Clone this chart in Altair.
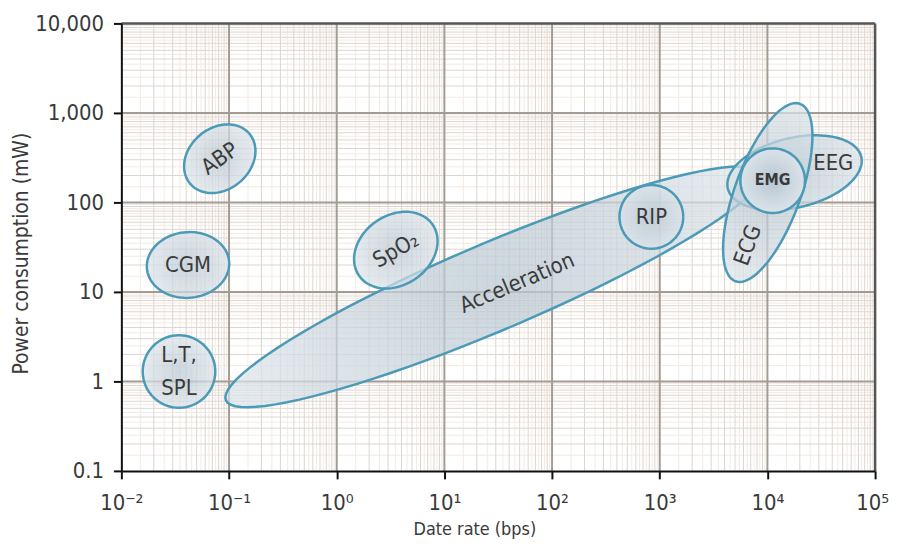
import math
import altair as alt
import pandas as pd

# ---------------- data ----------------
ellipse_names = ["Acceleration", "SpO2", "RIP", "ABP", "CGM", "LTSPL", "EEG", "ECG", "EMG"]
center_rate = [28.4, 3.54, 836, 0.082, 0.0416, 0.0343, 17860, 10070, 11190]      # bps
center_power = [11.4, 29.3, 69, 308, 20.0, 1.29, 215, 129, 175]                  # mW
major_decades = [2.697, 0.416, 0.296, 0.36, 0.383, 0.337, 0.637, 0.877, 0.30]  # half-extent, decades
minor_decades = [0.406, 0.323, 0.296, 0.286, 0.305, 0.337, 0.323, 0.305, 0.30]
tilt_deg = [23, 35, 0, 40, 5, 0, 13.4, 70, 0]

label_text = ["Acceleration", "SpO₂", "RIP", "ABP", "CGM", "L,T,\nSPL", "EEG", "ECG"]
label_rate = [47.3, 3.54, 836, 0.082, 0.0416, 0.0343, 40900, 6577]
label_power = [12.6, 29.3, 69, 308, 20.0, 1.95, 278, 33.3]
label_angle = [337, 330, 0, 325, 0, 0, 0, 290]

emg_text = ["EMG"]
emg_rate = [11190]
emg_power = [178]

x_ticks = [0.01, 0.1, 1, 10, 100, 1000, 10000, 100000]
x_tick_labels = ["10⁻²", "10⁻¹", "10⁰", "10¹", "10²", "10³", "10⁴", "10⁵"]
y_ticks = [0.1, 1, 10, 100, 1000, 10000]
y_tick_labels = ["0.1", "1", "10", "100", "1,000", "10,000"]

# ---------------- layout / style ----------------
W, H = 758, 450
ASPECT = (W / 7) / (H / 5)      # px per x-decade / px per y-decade
FONT = "Liberation Sans Narrow, DejaVu Sans Condensed, sans-serif"
TXT = "#3a3a3a"
STROKE = "#4b9ab8"

xscale = alt.Scale(type="log", domain=[0.01, 100000], nice=False)
yscale = alt.Scale(type="log", domain=[0.1, 10000], nice=False)

# ellipse outlines, computed in log space from centre / extents / tilt
N = 90
rows = []
for i, name in enumerate(ellipse_names):
    lx, ly = math.log10(center_rate[i]), math.log10(center_power[i])
    a, b = major_decades[i], minor_decades[i]
    th = math.radians(tilt_deg[i])
    for k in range(N + 1):
        t = 2 * math.pi * k / N
        u, v = a * math.cos(t), b * math.sin(t)
        dx = u * math.cos(th) - v * math.sin(th)
        dy = (u * math.sin(th) + v * math.cos(th)) * ASPECT
        rows.append({"name": name, "ord": i * 1000 + k,
                     "rate": 10 ** (lx + dx), "power": 10 ** (ly + dy)})
shapes = pd.DataFrame(rows)

# grid lines
x_minor = [m * 10 ** d for d in range(-2, 5) for m in range(2, 10)]
y_minor = [m * 10 ** d for d in range(-1, 4) for m in range(2, 10)]
x_fine = [(m + 0.5) * 10 ** d for d in range(-2, 5) for m in range(1, 10)]
y_fine = [(m + 0.5) * 10 ** d for d in range(-1, 4) for m in range(1, 10)]

xlabel_expr = "[" + ",".join("'%s'" % s for s in x_tick_labels) + "][round(log(datum.value)/LN10)+2]"
ylabel_expr = "[" + ",".join("'%s'" % s for s in y_tick_labels) + "][round(log(datum.value)/LN10)+1]"

xaxis = alt.Axis(values=x_ticks, title="Date rate (bps)", labelExpr=xlabel_expr,
                 grid=False, tickSize=8, tickWidth=2, tickColor="#111", domainColor="#111", domainWidth=2,
                 labelFont=FONT, labelFontSize=22, labelColor=TXT, labelPadding=14, labelFlush=False,
                 labelOffset={"condition": {"test": "datum.value > 50000", "value": -3}, "value": 0},
                 titleFont=FONT, titleFontSize=18, titleFontWeight="normal", titleColor=TXT,
                 titleX=355, titleY=50, titleBaseline="top", titleAnchor=None,
                 zindex=2)
yaxis = alt.Axis(values=y_ticks, title="Power consumption (mW)", labelExpr=ylabel_expr,
                 grid=False, tickSize=8, tickWidth=2, tickColor="#111", domainColor="#111", domainWidth=2,
                 labelFont=FONT, labelFontSize=22, labelColor=TXT, labelPadding=10, labelFlush=False,
                 titleFont=FONT, titleFontSize=21, titleFontWeight="normal", titleColor=TXT,
                 titleX=-100, titleY=231, titleBaseline="middle", titleAngle=270,
                 zindex=2)


def X(field):
    return alt.X(field, scale=xscale, axis=xaxis)


def Y(field):
    return alt.Y(field, scale=yscale, axis=yaxis)


def vrules(vals, color, width):
    return alt.Chart(pd.DataFrame({"v": vals})).mark_rule(color=color, strokeWidth=width).encode(x=X("v:Q"))


def hrules(vals, color, width):
    return alt.Chart(pd.DataFrame({"v": vals})).mark_rule(color=color, strokeWidth=width).encode(y=Y("v:Q"))


grid = alt.layer(
    vrules(x_fine, "#f5e9e2", 1), hrules(y_fine, "#f5e9e2", 1),
    vrules(x_minor, "#dcd6d1", 1), hrules(y_minor, "#dcd6d1", 1),
    vrules(x_ticks[1:-1], "#a39c95", 2), hrules(y_ticks[1:-1], "#a39c95", 2),
    vrules(x_ticks[-1:], "#555555", 2.5), hrules(y_ticks[-1:], "#555555", 2.5),
)

fill_grad = alt.RadialGradient(
    gradient="radial",
    stops=[alt.GradientStop(color="#b8c7d1", offset=0), alt.GradientStop(color="#dbe3e9", offset=1)],
)

main = shapes[shapes["name"] != "EMG"]
emg = shapes[shapes["name"] == "EMG"]

ell = alt.Chart(main).mark_line(fill=fill_grad, fillOpacity=0.72, stroke=STROKE, strokeWidth=2.5).encode(
    x=X("rate:Q"), y=Y("power:Q"), detail="name:N", order="ord:Q",
)
ell_emg = alt.Chart(emg).mark_line(fill=fill_grad, fillOpacity=1, stroke=STROKE, strokeWidth=2.5).encode(
    x=X("rate:Q"), y=Y("power:Q"), detail="name:N", order="ord:Q",
)

labels = alt.Chart(pd.DataFrame({"t": label_text, "x": label_rate, "y": label_power, "a": label_angle})).mark_text(
    font=FONT, fontSize=22, color=TXT, lineBreak="\n", lineHeight=33, baseline="middle", align="center"
).encode(
    x=X("x:Q"), y=Y("y:Q"), text="t:N", angle=alt.Angle("a:Q", scale=None),
)
emg_label = alt.Chart(pd.DataFrame({"t": emg_text, "x": emg_rate, "y": emg_power})).mark_text(
    font=FONT, fontSize=16, fontWeight="bold", color=TXT, baseline="middle", align="center"
).encode(x=X("x:Q"), y=Y("y:Q"), text="t:N")

chart = alt.layer(grid, ell, ell_emg, labels, emg_label).properties(
    width=W, height=H,
    autosize=alt.AutoSizeParams(type="none"),
    padding={"left": 114, "top": 14, "right": 16, "bottom": 72},
).configure_view(stroke=None).configure(background="white")

chart.save("out.html", embed_options={"renderer": "svg", "actions": False})
